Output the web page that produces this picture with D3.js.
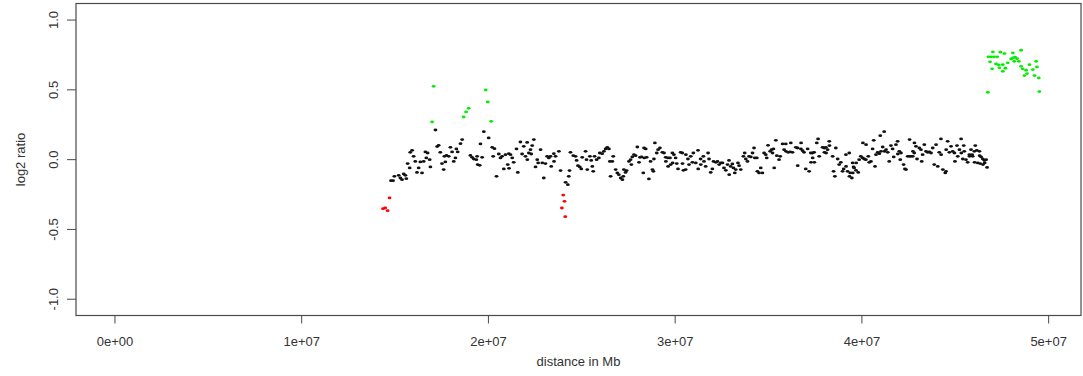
<!DOCTYPE html>
<html>
<head>
<meta charset="utf-8">
<script src="https://cdn.jsdelivr.net/npm/d3@7"></script>
<style>
  html, body { margin: 0; padding: 0; background: #fff; }
  svg { display: block; font-family: "Liberation Sans", Arial, sans-serif; }
</style>
</head>
<body>
<svg id="chart" width="1083" height="376"></svg>
<script>
// positions are in Mb, ratios are log2
const blackPoints = [
  [14.81,-0.154],[14.92,-0.154],[14.99,-0.123],[15.22,-0.116],[15.31,-0.135],[15.40,-0.147],[15.49,-0.106],
  [15.58,-0.116],[15.63,-0.140],[15.70,-0.032],[15.81,-0.063],[15.84,0.049],[15.94,0.063],[16.02,0.020],
  [16.11,-0.016],[16.20,-0.095],[16.29,-0.063],[16.38,-0.020],[16.47,-0.099],[16.56,-0.016],[16.65,0.052],
  [16.70,0.009],[16.77,0.044],[16.88,-0.004],[16.92,-0.056],[17.19,0.209],[17.28,0.090],[17.36,0.099],
  [17.45,0.049],[17.54,-0.032],[17.63,-0.075],[17.67,0.020],[17.72,-0.020],[17.78,0.027],[17.90,0.020],
  [17.99,0.085],[18.08,0.052],[18.17,-0.016],[18.26,0.009],[18.31,0.073],[18.38,0.052],[18.53,0.111],
  [18.62,0.140],[19.06,0.027],[19.15,0.013],[19.24,0.001],[19.38,-0.004],[19.42,0.020],[19.45,-0.039],
  [19.56,-0.044],[19.60,0.109],[19.69,0.013],[19.78,0.197],[20.04,0.152],[20.23,0.085],[20.28,0.020],
  [20.35,0.075],[20.46,-0.123],[20.58,0.037],[20.67,0.009],[20.76,0.020],[20.85,-0.070],[20.94,0.032],
  [21.06,-0.039],[21.12,0.039],[21.13,-0.066],[21.21,0.032],[21.30,0.009],[21.38,-0.023],[21.53,0.073],
  [21.60,-0.095],[21.74,0.123],[21.83,0.037],[21.92,0.092],[22.01,0.020],[22.10,0.120],[22.11,-0.004],
  [22.19,0.044],[22.28,0.068],[22.32,0.037],[22.37,0.097],[22.46,0.140],[22.55,-0.056],[22.64,-0.004],
  [22.69,-0.027],[22.82,0.068],[22.91,-0.027],[22.99,-0.135],[23.08,-0.032],[23.17,0.020],[23.26,0.009],
  [23.35,0.020],[23.39,-0.052],[23.53,0.039],[23.54,-0.016],[23.62,0.020],[23.80,0.056],[23.89,-0.082],
  [24.16,-0.166],[24.28,-0.183],[24.33,-0.123],[24.37,-0.082],[24.42,0.049],[24.57,0.025],[24.69,0.020],
  [24.75,-0.009],[24.82,-0.047],[24.92,-0.056],[25.00,-0.070],[25.05,0.013],[25.23,0.056],[25.28,-0.004],
  [25.32,-0.075],[25.46,0.020],[25.53,-0.009],[25.59,-0.052],[25.64,-0.087],[25.71,0.020],[25.82,-0.004],
  [25.94,0.009],[25.99,0.044],[26.12,0.039],[26.21,0.056],[26.30,0.073],[26.39,0.085],[26.48,0.073],
  [26.53,-0.016],[26.57,-0.123],[26.66,-0.016],[26.71,0.020],[26.84,-0.075],[26.93,-0.099],[27.01,-0.111],
  [27.11,-0.135],[27.20,-0.147],[27.25,-0.123],[27.28,-0.075],[27.37,-0.095],[27.43,-0.082],[27.55,-0.016],
  [27.64,-0.004],[27.68,-0.039],[27.73,0.016],[27.82,0.032],[27.91,0.025],[28.00,0.087],[28.09,-0.023],
  [28.14,0.013],[28.22,0.016],[28.32,-0.099],[28.36,0.080],[28.37,0.009],[28.45,0.073],[28.50,0.013],
  [28.62,-0.142],[28.71,-0.016],[28.81,-0.075],[28.86,-0.087],[28.89,0.001],[28.94,0.116],[29.04,0.044],
  [29.11,0.068],[29.21,0.080],[29.34,0.049],[29.43,0.044],[29.52,0.013],[29.53,-0.016],[29.64,0.009],
  [29.65,-0.052],[29.75,0.009],[29.79,-0.039],[29.88,0.044],[29.89,-0.027],[29.96,0.032],[30.05,0.009],
  [30.11,-0.032],[30.18,-0.070],[30.32,0.049],[30.41,0.044],[30.42,-0.032],[30.47,-0.080],[30.59,-0.075],
  [30.60,0.032],[30.71,0.001],[30.77,-0.039],[30.86,0.020],[30.95,-0.023],[31.00,0.044],[31.13,-0.027],
  [31.25,0.063],[31.26,-0.070],[31.39,0.001],[31.40,-0.039],[31.54,0.020],[31.57,-0.016],[31.66,-0.052],
  [31.79,0.044],[31.84,0.001],[31.93,-0.095],[32.02,-0.070],[32.08,-0.016],[32.20,-0.023],[32.29,-0.016],
  [32.38,-0.039],[32.47,-0.027],[32.56,-0.027],[32.64,-0.063],[32.74,-0.080],[32.83,-0.039],[32.91,-0.009],
  [32.92,-0.111],[33.00,-0.052],[33.09,-0.034],[33.15,-0.063],[33.22,-0.099],[33.27,-0.075],[33.39,-0.027],
  [33.45,-0.047],[33.54,-0.075],[33.68,0.020],[33.75,0.044],[33.81,0.001],[33.90,-0.016],[33.98,0.020],
  [34.08,0.016],[34.17,0.044],[34.25,0.080],[34.29,0.009],[34.40,0.009],[34.43,-0.087],[34.52,-0.099],
  [34.61,-0.063],[34.70,-0.099],[34.79,0.044],[34.88,0.032],[34.93,0.009],[35.00,0.099],[35.11,0.056],
  [35.19,0.068],[35.24,0.044],[35.29,0.073],[35.33,-0.063],[35.42,0.135],[35.47,0.025],[35.59,-0.004],
  [35.65,0.020],[35.78,0.109],[35.86,0.068],[35.95,0.109],[35.96,0.056],[36.08,0.049],[36.18,0.052],
  [36.22,0.116],[36.31,0.049],[36.49,0.085],[36.58,0.080],[36.59,-0.047],[36.76,0.073],[36.77,0.116],
  [36.85,0.061],[36.93,0.049],[37.02,-0.070],[37.12,0.073],[37.20,-0.087],[37.29,0.044],[37.30,-0.023],
  [37.38,0.044],[37.39,0.009],[37.47,0.049],[37.48,-0.023],[37.61,0.116],[37.68,0.145],[37.74,0.020],
  [37.92,0.085],[38.01,0.080],[38.02,0.049],[38.10,0.085],[38.11,0.044],[38.19,0.068],[38.28,0.128],
  [38.29,0.097],[38.46,0.020],[38.51,-0.087],[38.58,-0.123],[38.63,0.080],[38.73,0.001],[38.81,-0.039],
  [38.90,-0.023],[38.99,-0.087],[39.05,-0.070],[39.17,0.032],[39.18,-0.052],[39.26,-0.087],[39.35,0.044],
  [39.36,-0.123],[39.40,-0.099],[39.49,-0.135],[39.53,-0.027],[39.54,-0.099],[39.58,-0.056],[39.61,-0.063],
  [39.71,-0.080],[39.72,-0.027],[39.83,-0.095],[39.88,-0.004],[39.97,0.020],[40.07,0.009],[40.08,0.116],
  [40.15,0.001],[40.24,-0.004],[40.25,0.104],[40.37,0.020],[40.42,-0.023],[40.51,-0.016],[40.60,0.073],
  [40.66,0.135],[40.73,-0.052],[40.78,0.032],[40.87,0.049],[40.96,0.039],[41.01,0.168],[41.05,0.056],
  [41.14,0.087],[41.22,0.197],[41.23,0.056],[41.32,0.068],[41.41,0.049],[41.49,-0.016],[41.58,0.097],
  [41.67,0.073],[41.73,0.016],[41.85,0.104],[41.94,0.128],[41.95,0.037],[42.03,0.056],[42.08,-0.004],
  [42.12,0.044],[42.26,-0.039],[42.33,-0.070],[42.39,-0.075],[42.48,0.020],[42.57,0.020],[42.58,0.140],
  [42.65,0.020],[42.75,0.020],[42.76,0.056],[42.83,0.044],[42.84,0.116],[42.92,0.092],[42.98,0.001],
  [43.10,0.080],[43.19,0.068],[43.23,-0.016],[43.28,0.032],[43.37,0.104],[43.46,0.056],[43.55,0.049],
  [43.64,0.052],[43.73,0.044],[43.82,0.080],[43.90,-0.039],[44.00,0.104],[44.09,-0.052],[44.17,0.049],
  [44.26,0.145],[44.27,0.032],[44.36,-0.075],[44.49,-0.099],[44.53,-0.087],[44.54,0.068],[44.62,0.128],
  [44.71,0.049],[44.80,0.092],[44.89,0.056],[44.98,0.044],[45.01,-0.016],[45.12,0.097],[45.16,0.020],
  [45.25,0.068],[45.34,0.145],[45.35,0.044],[45.43,0.001],[45.48,0.097],[45.51,0.056],[45.60,-0.004],
  [45.69,-0.023],[45.78,0.032],[45.79,0.020],[45.87,0.068],[45.93,0.032],[45.96,0.020],[46.05,0.056],
  [46.06,-0.023],[46.10,0.097],[46.18,0.063],[46.23,-0.027],[46.32,0.056],[46.33,0.025],[46.36,-0.032],
  [46.41,0.016],[46.50,0.001],[46.51,-0.039],[46.59,-0.009],[46.60,-0.027],[46.68,-0.004],[46.73,-0.059]
];

const redPoints = [
  [14.38,-0.355],[14.50,-0.350],[14.63,-0.369],[14.73,-0.278],
  [23.96,-0.350],[24.03,-0.257],[24.10,-0.302],[24.14,-0.412]
];

const greenPoints = [
  [17.01,0.267],[17.09,0.522],[18.70,0.302],[18.83,0.338],[18.97,0.364],[19.88,0.496],[19.99,0.410],[20.17,0.271],
  [46.77,0.479],[46.80,0.733],[46.89,0.697],[46.94,0.733],[47.00,0.647],[47.04,0.768],[47.10,0.733],[47.21,0.682],
  [47.27,0.733],[47.36,0.675],[47.39,0.654],[47.44,0.766],[47.57,0.677],[47.57,0.629],[47.66,0.756],[47.71,0.651],
  [47.84,0.690],[48.02,0.718],[48.11,0.761],[48.11,0.725],[48.19,0.701],[48.23,0.730],[48.34,0.720],[48.43,0.701],
  [48.55,0.780],[48.55,0.665],[48.64,0.647],[48.73,0.599],[48.82,0.637],[48.87,0.613],[49.00,0.677],[49.18,0.642],
  [49.27,0.599],[49.36,0.701],[49.40,0.661],[49.50,0.582],[49.53,0.484]
];

const xTicks = [0, 1e7, 2e7, 3e7, 4e7, 5e7];
const xTickLabels = ["0e+00", "1e+07", "2e+07", "3e+07", "4e+07", "5e+07"];
const yTicks = [-1.0, -0.5, 0.0, 0.5, 1.0];
const yTickLabels = ["-1.0", "-0.5", "0.0", "0.5", "1.0"];

const svg = d3.select('#chart');
const box = { left: 76, right: 1081, top: 3.5, bottom: 315.5 };
const axisColor = '#4a4a4a';
const textColor = '#333';

const x = d3.scaleLinear().domain([-2.06e6, 51.76e6]).range([box.left, box.right]);
const y = d3.scaleLinear().domain([-1.12, 1.115]).range([box.bottom, box.top]);

// frame
svg.append('rect')
  .attr('x', box.left).attr('y', box.top)
  .attr('width', box.right - box.left).attr('height', box.bottom - box.top)
  .attr('fill', 'none').attr('stroke', axisColor).attr('stroke-width', 1.2);

// x axis
const xAxis = svg.append('g')
  .attr('transform', `translate(0,${box.bottom})`)
  .call(d3.axisBottom(x).tickValues(xTicks).tickSize(8).tickPadding(13)
    .tickFormat((d, i) => xTickLabels[i]));
xAxis.select('.domain').remove();
xAxis.selectAll('line').attr('stroke', axisColor);
xAxis.selectAll('text').attr('fill', textColor).attr('font-size', '13px');

// y axis, labels parallel to axis like base R
const yAxis = svg.append('g')
  .attr('transform', `translate(${box.left},0)`)
  .call(d3.axisLeft(y).tickValues(yTicks).tickSize(9).tickFormat((d, i) => yTickLabels[i]));
yAxis.select('.domain').remove();
yAxis.selectAll('line').attr('stroke', axisColor);
yAxis.selectAll('text')
  .attr('fill', textColor).attr('font-size', '13px')
  .attr('text-anchor', 'middle').attr('dy', null).attr('x', null)
  .attr('dominant-baseline', 'central')
  .attr('transform', 'translate(-23,0) rotate(-90)');

// axis titles
svg.append('text')
  .attr('x', (box.left + box.right) / 2).attr('y', 366)
  .attr('text-anchor', 'middle').attr('fill', textColor).attr('font-size', '13px')
  .text('distance in Mb');
svg.append('text')
  .attr('transform', `translate(25,${(box.top + box.bottom) / 2}) rotate(-90)`)
  .attr('text-anchor', 'middle').attr('fill', textColor).attr('font-size', '13px')
  .text('log2 ratio');

// points
const groups = [
  { pts: blackPoints, color: '#111' },
  { pts: redPoints, color: '#ff0000' },
  { pts: greenPoints, color: '#00ee00' }
];
groups.forEach(grp => {
  svg.append('g').selectAll('ellipse')
    .data(grp.pts)
    .join('ellipse')
    .attr('cx', d => x(d[0] * 1e6))
    .attr('cy', d => y(d[1]))
    .attr('rx', 1.9)
    .attr('ry', 1.4)
    .attr('fill', grp.color);
});
</script>
</body>
</html>
